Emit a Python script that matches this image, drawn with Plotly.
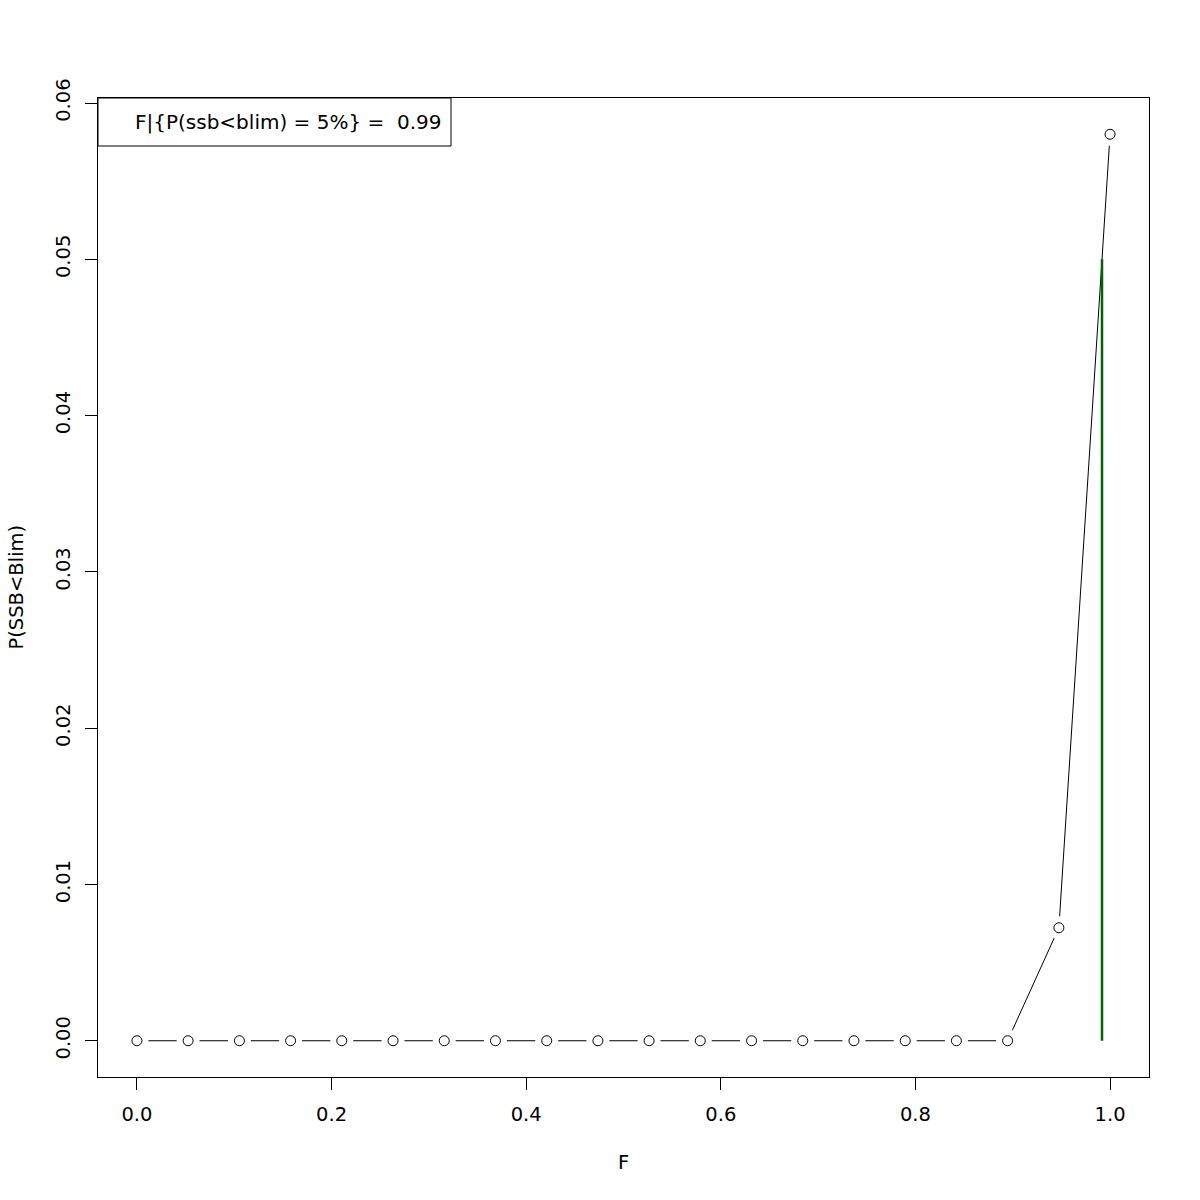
import numpy as np
import plotly.graph_objects as go

# Data
F_values = [0.0, 0.0526, 0.1053, 0.1579, 0.2105, 0.2632, 0.3158, 0.3684, 0.4211, 0.4737,
            0.5263, 0.5789, 0.6316, 0.6842, 0.7368, 0.7895, 0.8421, 0.8947, 0.9474, 1.0]
p_ssb_below_blim = [0, 0, 0, 0, 0, 0, 0, 0, 0, 0,
                    0, 0, 0, 0, 0, 0, 0, 0, 0.00723, 0.0580]
p_target = 0.05
F_at_target = 0.9917
x_ticks = [0.0, 0.2, 0.4, 0.6, 0.8, 1.0]
y_ticks = [0.00, 0.01, 0.02, 0.03, 0.04, 0.05, 0.06]

FONT = "DejaVu Sans"
FS = 19.5

fig = go.Figure()
# connecting line
fig.add_trace(go.Scatter(x=F_values, y=p_ssb_below_blim, mode="lines",
                         line=dict(color="black", width=1), hoverinfo="skip"))
# white gap around points (R type="b")
fig.add_trace(go.Scatter(x=F_values, y=p_ssb_below_blim, mode="markers",
                         marker=dict(symbol="circle", size=23, color="white",
                                     line=dict(width=0)), hoverinfo="skip"))
# open circles
fig.add_trace(go.Scatter(x=F_values, y=p_ssb_below_blim, mode="markers",
                         marker=dict(symbol="circle-open", size=10, color="black",
                                     line=dict(width=1, color="black"))))
# vertical line at F where P = 5%
fig.add_trace(go.Scatter(x=[F_at_target, F_at_target], y=[0, p_target], mode="lines",
                         line=dict(color="#006400", width=2.5)))

axis_common = dict(showgrid=False, zeroline=False, showline=True, mirror=True,
                   linecolor="black", linewidth=1, ticks="outside", ticklen=12,
                   tickcolor="black", tickwidth=1,
                   tickfont=dict(family=FONT, size=FS, color="black"))

fig.update_xaxes(range=[-0.04, 1.04], tickvals=x_ticks, ticklabelstandoff=8,
                 ticktext=[f"{v:.1f}" for v in x_ticks], **axis_common)
fig.update_yaxes(range=[-0.00232, 0.06032], tickvals=y_ticks, ticklabelstandoff=7,
                 ticktext=[f"{v:.2f}" for v in y_ticks], tickangle=-90, **axis_common)

# legend box (topleft)
fig.add_shape(type="rect", xref="paper", yref="paper",
              xsizemode="pixel", ysizemode="pixel", xanchor=0, yanchor=1,
              x0=0, x1=353, y0=-48, y1=0,
              line=dict(color="black", width=1), fillcolor="white")

annotations = [
    dict(text=f"F|{{P(ssb<blim) = 5%}} =  {round(F_at_target, 2)}", xref="paper", yref="paper",
         x=0, y=1, xanchor="left", yanchor="middle", xshift=35, yshift=-24,
         showarrow=False, font=dict(family=FONT, size=20, color="black")),
    dict(text="F", xref="paper", yref="paper", x=0.5, y=0, xanchor="center",
         yanchor="middle", yshift=-85, showarrow=False,
         font=dict(family=FONT, size=FS, color="black")),
    dict(text="P(SSB<Blim)", xref="paper", yref="paper", x=0, y=0.5, xanchor="center",
         yanchor="middle", xshift=-82, textangle=-90, showarrow=False,
         font=dict(family=FONT, size=FS, color="black")),
]

fig.update_layout(width=1200, height=1200, showlegend=False,
                  plot_bgcolor="white", paper_bgcolor="white",
                  margin=dict(l=98, r=51, t=98, b=123, pad=0),
                  annotations=annotations,
                  font=dict(family=FONT, color="black"))

fig.write_html("out.html", config={"displayModeBar": False},
               post_script="document.body.style.margin='0';document.body.style.padding='0';")
